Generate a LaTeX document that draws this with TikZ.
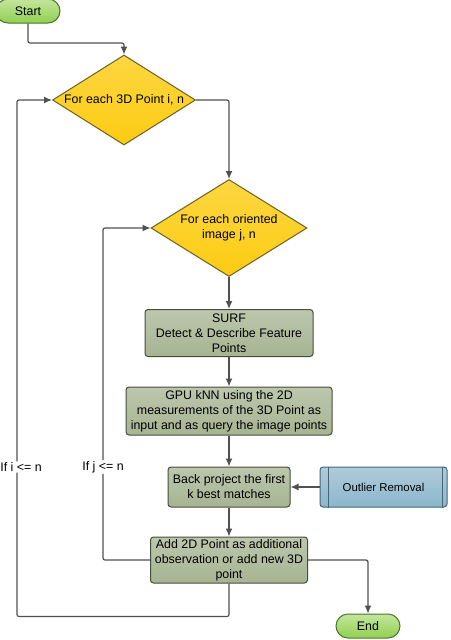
\documentclass[tikz,border=0pt]{standalone}
\usepackage{fontspec}
\setmainfont{Liberation Sans}
\usepackage{tikz}
\usetikzlibrary{shapes.geometric,shapes.misc,arrows.meta}

\definecolor{termgreen}{RGB}{146,208,80}
\definecolor{termline}{RGB}{70,120,40}
\definecolor{loopyellow}{RGB}{252,204,18}
\definecolor{loopline}{RGB}{110,95,40}
\definecolor{stepgreen}{RGB}{166,180,146}
\definecolor{stepline}{RGB}{70,78,60}
\definecolor{subblue}{RGB}{140,182,204}
\definecolor{subline}{RGB}{70,100,120}
\definecolor{conn}{RGB}{80,80,80}

\begin{document}
\begin{tikzpicture}
		[
		x=1pt, y=-1pt, font=\fontsize{12.4}{15}\selectfont, >={Latex[length=8pt,width=7pt]},
		%Stile der Elemente
		term/.style={rounded rectangle, draw=termline, line width=1pt, top color=termgreen!55!white, bottom color=termgreen, minimum width=64pt, minimum height=24pt, inner sep=0pt},
		loopbox/.style={diamond, draw=loopline, line width=1pt, top color=loopyellow!80!white, bottom color=loopyellow, aspect=1.6, inner sep=0pt, align=center},
		stepbox/.style={rectangle, rounded corners=3pt, draw=stepline, line width=1pt, top color=stepgreen!75!white, bottom color=stepgreen, align=center, inner sep=0pt},
		subbox/.style={rectangle, rounded corners=3pt, draw=subline, line width=1pt, top color=subblue!70!white, bottom color=subblue, inner sep=0pt, font=\fontsize{11.4}{14}\selectfont},
		flow/.style={draw=conn, line width=1.2pt, rounded corners=2pt},
		lbl/.style={inner sep=1pt}
		]
		
		%Rahmen
		\useasboundingbox (0,0) rectangle (450,640);
		
		%Knoten
		\node [term] (start) at (28,11) {Start};
		\node [loopbox, minimum width=143pt, minimum height=90pt] (pointloop) at (124,100) {For each 3D Point i, n};
		\node [loopbox, minimum width=156pt, minimum height=97pt] (imageloop) at (229,228) {For each oriented\\image j, n};
		\node [stepbox, minimum width=168pt, minimum height=47pt] (surf) at (229,333) {SURF\\Detect \& Describe Feature\\Points};
		\node [stepbox, minimum width=206pt, minimum height=48pt] (knn) at (229,411) {GPU kNN using the 2D\\measurements of the 3D Point as\\input and as query the image points};
		\node [stepbox, minimum width=122pt, minimum height=40pt] (backproj) at (229,487) {Back project the first\\k best matches};
		\node [subbox, minimum width=127pt, minimum height=40pt] (outlier) at (383.5,487) {Outlier Removal};
		\node [stepbox, minimum width=157pt, minimum height=46pt] (addpoint) at (229,560) {Add 2D Point as additional\\observation or add new 3D\\point};
		\node [term] (end) at (368,626) {End};
		\node [lbl] (iloop) at (21,467) {If i <= n};
		\node [lbl] (jloop) at (103,467) {If j <= n};
		\coordinate (bend) at (28,43);
		
		%Striche im Unterprogramm
		\draw [subline, line width=1pt] ([xshift=9pt]outlier.north west) -- ([xshift=9pt]outlier.south west);
		\draw [subline, line width=1pt] ([xshift=-5pt]outlier.north east) -- ([xshift=-5pt]outlier.south east);
		
		%Verbindungen
		\draw [flow, ->] (start.south) -- (bend) -| (pointloop.north);
		\draw [flow, ->] (pointloop.east) -| (imageloop.north);
		\draw [flow, ->] (imageloop.south) -- (surf.north);
		\draw [flow, ->] (surf.south) -- (knn.north);
		\draw [flow, ->] (knn.south) -- (backproj.north);
		\draw [flow, ->] (outlier.west) -- (backproj.east);
		\draw [flow, ->] (backproj.south) -- (addpoint.north);
		\draw [flow, ->] (addpoint.east) -| (end.north);
		
		%Schleifen zurück
		\draw [flow] (addpoint.west) -| (jloop.south);
		\draw [flow, ->] (jloop.north) |- (imageloop.west);
		\draw [flow] (addpoint.south) -- ++(0,33) -| ([xshift=-4pt]iloop.south);
		\draw [flow, ->] ([xshift=-4pt]iloop.north) |- (pointloop.west);
	\end{tikzpicture}
\end{document}
